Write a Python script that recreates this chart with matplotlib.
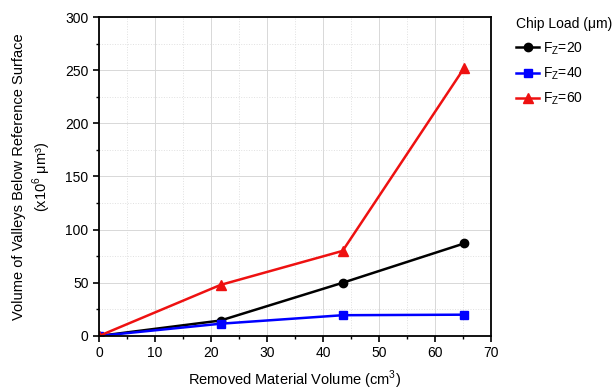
import matplotlib.pyplot as plt
from matplotlib.ticker import MultipleLocator

plt.rcParams['font.family'] = ['Liberation Sans', 'DejaVu Sans']

volume = [0, 21.7, 43.5, 65.2]
fz20 = [0, 14.5, 50, 87]
fz40 = [0, 11.5, 19.5, 20]
fz60 = [0, 48, 80, 252]

fig = plt.figure(figsize=(6.13, 3.92), dpi=100)
ax = fig.add_axes([0.1615, 0.143, 0.6395, 0.8136])

ax.plot(volume, fz20, '-o', color='black', ms=6, lw=1.8, label='F$_\\mathregular{Z}$=20')
ax.plot(volume, fz40, '-s', color='#0000ff', ms=6, lw=1.8, label='F$_\\mathregular{Z}$=40')
ax.plot(volume, fz60, '-^', color='#ee1111', ms=7, lw=1.8, label='F$_\\mathregular{Z}$=60')

ax.set_xlim(0, 70)
ax.set_ylim(0, 300)
ax.xaxis.set_major_locator(MultipleLocator(10))
ax.xaxis.set_minor_locator(MultipleLocator(5))
ax.yaxis.set_major_locator(MultipleLocator(50))
ax.yaxis.set_minor_locator(MultipleLocator(25))
ax.grid(True, which='major', color='#d8d8d8', ls='-', lw=0.7)
ax.grid(True, which='minor', color='#e0e0e0', ls=':', lw=0.7)
ax.tick_params(which='major', direction='out', length=4, width=1.2, labelsize=10)
ax.tick_params(which='minor', direction='out', length=2.5, width=1)
for s in ax.spines.values():
    s.set_linewidth(1.3)

ax.set_xlabel('Removed Material Volume (cm$^\\mathregular{3}$)', fontsize=10.5, labelpad=6)
ax.set_ylabel('Volume of Valleys Below Reference Surface\n(x10$^\\mathregular{6}$ μm³)',
              fontsize=10.5, labelpad=9, linespacing=1.25)

leg = ax.legend(title='Chip Load (μm)', loc='upper left', bbox_to_anchor=(1.04, 1.03),
                frameon=False, fontsize=10, title_fontsize=10, handlelength=1.6,
                labelspacing=0.65, handletextpad=0.3, borderpad=0.2)
leg._legend_box.align = 'left'

fig.savefig('out.png', dpi=100)
